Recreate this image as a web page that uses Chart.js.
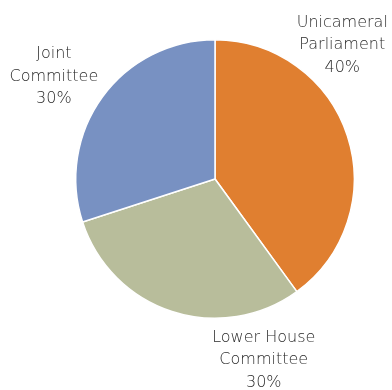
<!DOCTYPE html>
<html>
<head>
<meta charset="utf-8">
<script src="https://cdn.jsdelivr.net/npm/chart.js@4/dist/chart.umd.min.js"></script>
<style>
  html, body { margin: 0; padding: 0; background: #fff; }
  #wrap { width: 392px; height: 390px; }
</style>
</head>
<body>
<div id="wrap"><canvas id="grafico_comites"></canvas></div>
<script>
// Datos del gráfico
const categorias = [["Unicameral", "Parliament"], ["Lower House", "Committee"], ["Joint", "Committee"]];
const valores = [40, 30, 30];
const colores = ["#E07F30", "#B8BD9B", "#7891C2"];

// posición de cada etiqueta, relativa al centro y en unidades del radio
const posEtiquetas = [[0.914, -0.96], [0.35, 1.3], [-1.157, -0.736]];

const etiquetasFuera = {
  id: "etiquetasFuera",
  afterDatasetsDraw(chart) {
    const ctx = chart.ctx;
    const arcos = chart.getDatasetMeta(0).data;
    const total = valores.reduce((a, b) => a + b, 0);
    ctx.save();
    ctx.font = "200 16px 'DejaVu Sans'";
    ctx.fillStyle = "#2a2a2a";
    ctx.textAlign = "center";
    ctx.textBaseline = "middle";
    arcos.forEach((arco, i) => {
      const r = arco.outerRadius;
      const cx = arco.x + posEtiquetas[i][0] * r;
      const cy = arco.y + posEtiquetas[i][1] * r;
      const lineas = categorias[i].concat([Math.round((valores[i] / total) * 100) + "%"]);
      const alto = 22.5;
      lineas.forEach((t, j) => {
        ctx.fillText(t, cx, cy + (j - (lineas.length - 1) / 2) * alto);
      });
    });
    ctx.restore();
  },
};

const ctx = document.querySelector("#grafico_comites").getContext("2d");

new Chart(ctx, {
  type: "pie",
  data: {
    labels: categorias.map((c) => c.join(" ")),
    datasets: [
      {
        data: valores,
        backgroundColor: colores,
        borderColor: "#ffffff",
        borderWidth: 1.5,
      },
    ],
  },
  options: {
    responsive: true,
    maintainAspectRatio: false,
    animation: false,
    layout: { padding: { top: 39, bottom: 71, left: 75, right: 37 } },
    plugins: {
      legend: { display: false },
      tooltip: { enabled: false },
    },
  },
  plugins: [etiquetasFuera],
});
</script>
</body>
</html>
